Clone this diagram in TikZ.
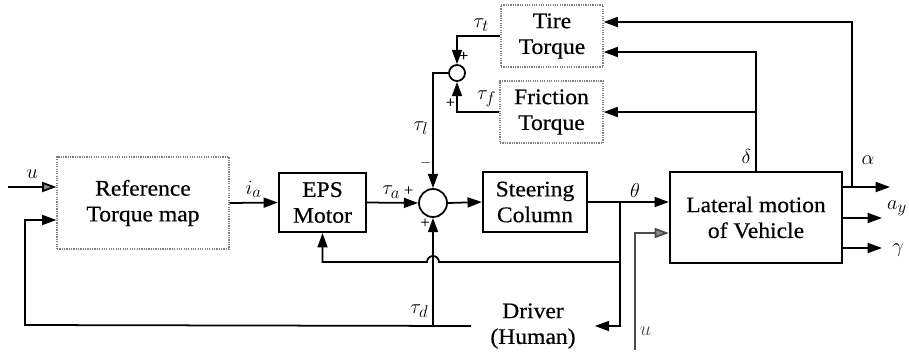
\documentclass[tikz,border=0pt]{standalone}
\usepackage{fontspec}
\setmainfont{Liberation Serif}[FakeStretch=1.06, FakeBold=0.5]
\usetikzlibrary{arrows.meta}
\usetikzlibrary{calc}

\begin{document}
\begin{tikzpicture}[x=0.03cm, y=-0.03cm, line width=1.5pt, font=\fontsize{19}{22}\selectfont,
		arr/.style={-{Triangle[length=4.3mm, width=3mm]}},
		soft/.style={-{Triangle[length=4.3mm, width=3mm, fill=black!45]}},
		blk/.style={draw, line width=1.9pt, align=center, inner sep=0pt},
		dotblk/.style={draw=black!50, densely dotted, line width=1pt, align=center, inner sep=0pt},
		junc/.style={draw, circle, line width=1.5pt, inner sep=0pt},
		sgn/.style={font=\fontsize{13}{15}\selectfont, inner sep=1pt}]
		\useasboundingbox (0,0) rectangle (909,355);
		% blocks
		\node[dotblk, minimum width=5.16cm, minimum height=2.76cm] (ref) at (143,203) {Reference\\Torque map};
		\node[blk, minimum width=2.61cm, minimum height=1.77cm] (eps) at (322.5,202.5) {EPS\\Motor};
		\node[junc, minimum size=0.84cm] (sum) at (433,203) {};
		\node[blk, minimum width=3.12cm, minimum height=1.8cm] (steer) at (535,202) {Steering\\Column};
		\node[blk, minimum width=5.16cm, minimum height=2.73cm] (lat) at (756,217.5) {Lateral motion\\of Vehicle};
		\node[dotblk, minimum width=3.06cm, minimum height=1.86cm] (tire) at (552,36) {Tire\\Torque};
		\node[dotblk, minimum width=3.09cm, minimum height=1.86cm] (fric) at (551.5,112) {Friction\\Torque};
		\node[junc, minimum size=0.48cm] (sum2) at (457,73) {};
		\node[inner xsep=0.55cm, inner ysep=0pt, align=center] (drv) at (533,326) {Driver\\(Human)};
		% free ends and branch points
		\coordinate (uin) at (8,187);
		\coordinate (br) at (620,203);
		\coordinate (fbe) at (620,262);
		\coordinate (fbl) at (25,325);
		\coordinate (ubot) at (635,350);
		\coordinate (abr) at (852,187);
		\coordinate (aout) at (890,187);
		\coordinate (ayout) at (882,218);
		\coordinate (gout) at (882,248);
		% forward path
		\draw[soft] (uin) -- (uin -| ref.west) node[midway, above=3pt] {$u$};
		\draw[arr] (ref.east) -- (eps.west) node[midway, above] {$i_a$};
		\draw[arr] (eps.east) -- (sum.west) node[pos=0.6, above] {$\tau_a$\,{\fontsize{13}{15}\selectfont+}};
		\draw[arr] (sum.east) -- (steer.west);
		\draw[arr] (steer.east) -- (steer.east -| lat.west) node[pos=0.58, above] {$\theta$};
		% driver loop
		\draw[arr] (br) |- (drv.east);
		\draw[arr] (drv.west) -- (fbl) |- ($(ref.west)+(0,17)$);
		\draw[arr] (sum |- fbl) -- (sum.south) node[pos=0.13, left] {$\tau_d$};
		\node[sgn] (pd) at ($(sum)+(-8,20)$) {+};
		% motor feedback with jump over tau_d
		\draw[arr] (fbe) -- ($(sum |- fbe)+(6,0)$) arc[start angle=0, end angle=180, radius=0.18cm] -- (eps.south |- fbe) -- (eps.south);
		% load torques
		\draw[arr] (tire.west) -| (sum2.north) node[pos=0.22, above] {$\tau_t$} node[pos=0.86, right, sgn] {+};
		\draw[arr] (fric.west) -| (sum2.south) node[pos=0.15, above] {$\tau_f$} node[pos=0.65, left, sgn] {+};
		\draw[arr] (sum2.west) -| (sum.north) node[pos=0.74, left] {$\tau_l$} node[pos=0.89, left, sgn] {$-$};
		% vehicle outputs
		\draw[arr] (lat.east |- aout) -- (aout);
		\draw[arr] (lat.east |- ayout) -- (ayout);
		\draw[arr] (lat.east |- gout) -- (gout);
		\node (lalpha) at (868,160) {$\alpha$};
		\node (lay) at (897,208) {$a_y$};
		\node (lgam) at (898,250) {$\gamma$};
		\draw[arr] (abr) |- ($(tire.east)+(0,-14)$);
		\draw[arr] (lat.north) |- ($(tire.east)+(0,16)$) node[pos=0.06, left] {$\delta$};
		\draw[arr] (lat.north |- fric.east) -- (fric.east);
		\draw[soft, black!70] (ubot) |- ($(lat.west)+(0,15.5)$) node[pos=0.08, right] {$u$};
	\end{tikzpicture}
\end{document}
